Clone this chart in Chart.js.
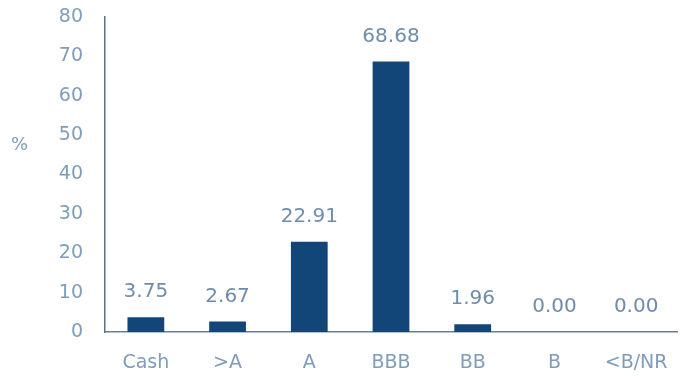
<!DOCTYPE html>
<html>
<head>
<meta charset="utf-8">
<script src="https://cdn.jsdelivr.net/npm/chart.js@4"></script>
<style>
  html, body { margin: 0; padding: 0; background: #fff; }
  #wrap { width: 682px; height: 376px; }
</style>
</head>
<body>
<div id="wrap"><canvas id="ratings"></canvas></div>
<script>
const categories = ['Cash', '>A', 'A', 'BBB', 'BB', 'B', '<B/NR']
const weights = [3.75, 2.67, 22.91, 68.68, 1.96, 0.00, 0.00]
const yTicks = [0, 10, 20, 30, 40, 50, 60, 70, 80]

const textColor = '#7f9cba'
const labelColor = '#6f8cab'
const barColor = '#124678'
const fontFamily = '"DejaVu Sans", sans-serif'

// value labels above each bar
const valueLabels = {
    id: 'valueLabels',
    afterDatasetsDraw(chart) {
        let ctx = chart.ctx
        let meta = chart.getDatasetMeta(0)
        ctx.save()
        ctx.font = '20px ' + fontFamily
        ctx.fillStyle = labelColor
        ctx.textAlign = 'center'
        ctx.textBaseline = 'middle'
        meta.data.forEach((bar, i) => {
            ctx.fillText(weights[i].toFixed(2), bar.x, bar.y - 25)
        })
        // unit label
        ctx.fillStyle = textColor
        ctx.font = '18px ' + fontFamily
        ctx.textAlign = 'left'
        ctx.fillText('%', 11, 145)
        ctx.restore()
    }
}

new Chart('ratings', {
    type: 'bar',
    data: {
        labels: categories,
        datasets: [{
            data: weights,
            backgroundColor: barColor,
            barPercentage: 0.9,
            categoryPercentage: 0.5
        }]
    },
    options: {
        responsive: true,
        maintainAspectRatio: false,
        animation: false,
        layout: { padding: { top: 17, right: 5, left: 0, bottom: 0 } },
        plugins: {
            legend: { display: false },
            tooltip: { enabled: false }
        },
        scales: {
            x: {
                grid: { display: false, drawTicks: false },
                border: { display: true, color: '#6a7f96', width: 1.5 },
                ticks: {
                    color: textColor,
                    font: { family: fontFamily, size: 19 },
                    padding: 20,
                    maxRotation: 0
                },
                afterFit(scale) {
                    scale.height = 44
                    scale.paddingLeft = 0
                    scale.paddingRight = 0
                }
            },
            y: {
                min: 0,
                max: 80,
                afterBuildTicks(scale) { scale.ticks = yTicks.map(v => ({ value: v })) },
                grid: { display: false, drawTicks: false },
                border: { display: true, color: '#5b7088', width: 1.5 },
                ticks: {
                    color: textColor,
                    font: { family: fontFamily, size: 19 },
                    padding: 22
                },
                afterFit(scale) {
                    scale.width = 105
                    scale.paddingTop = 0
                    scale.paddingBottom = 0
                }
            }
        }
    },
    plugins: [valueLabels]
})
</script>
</body>
</html>
